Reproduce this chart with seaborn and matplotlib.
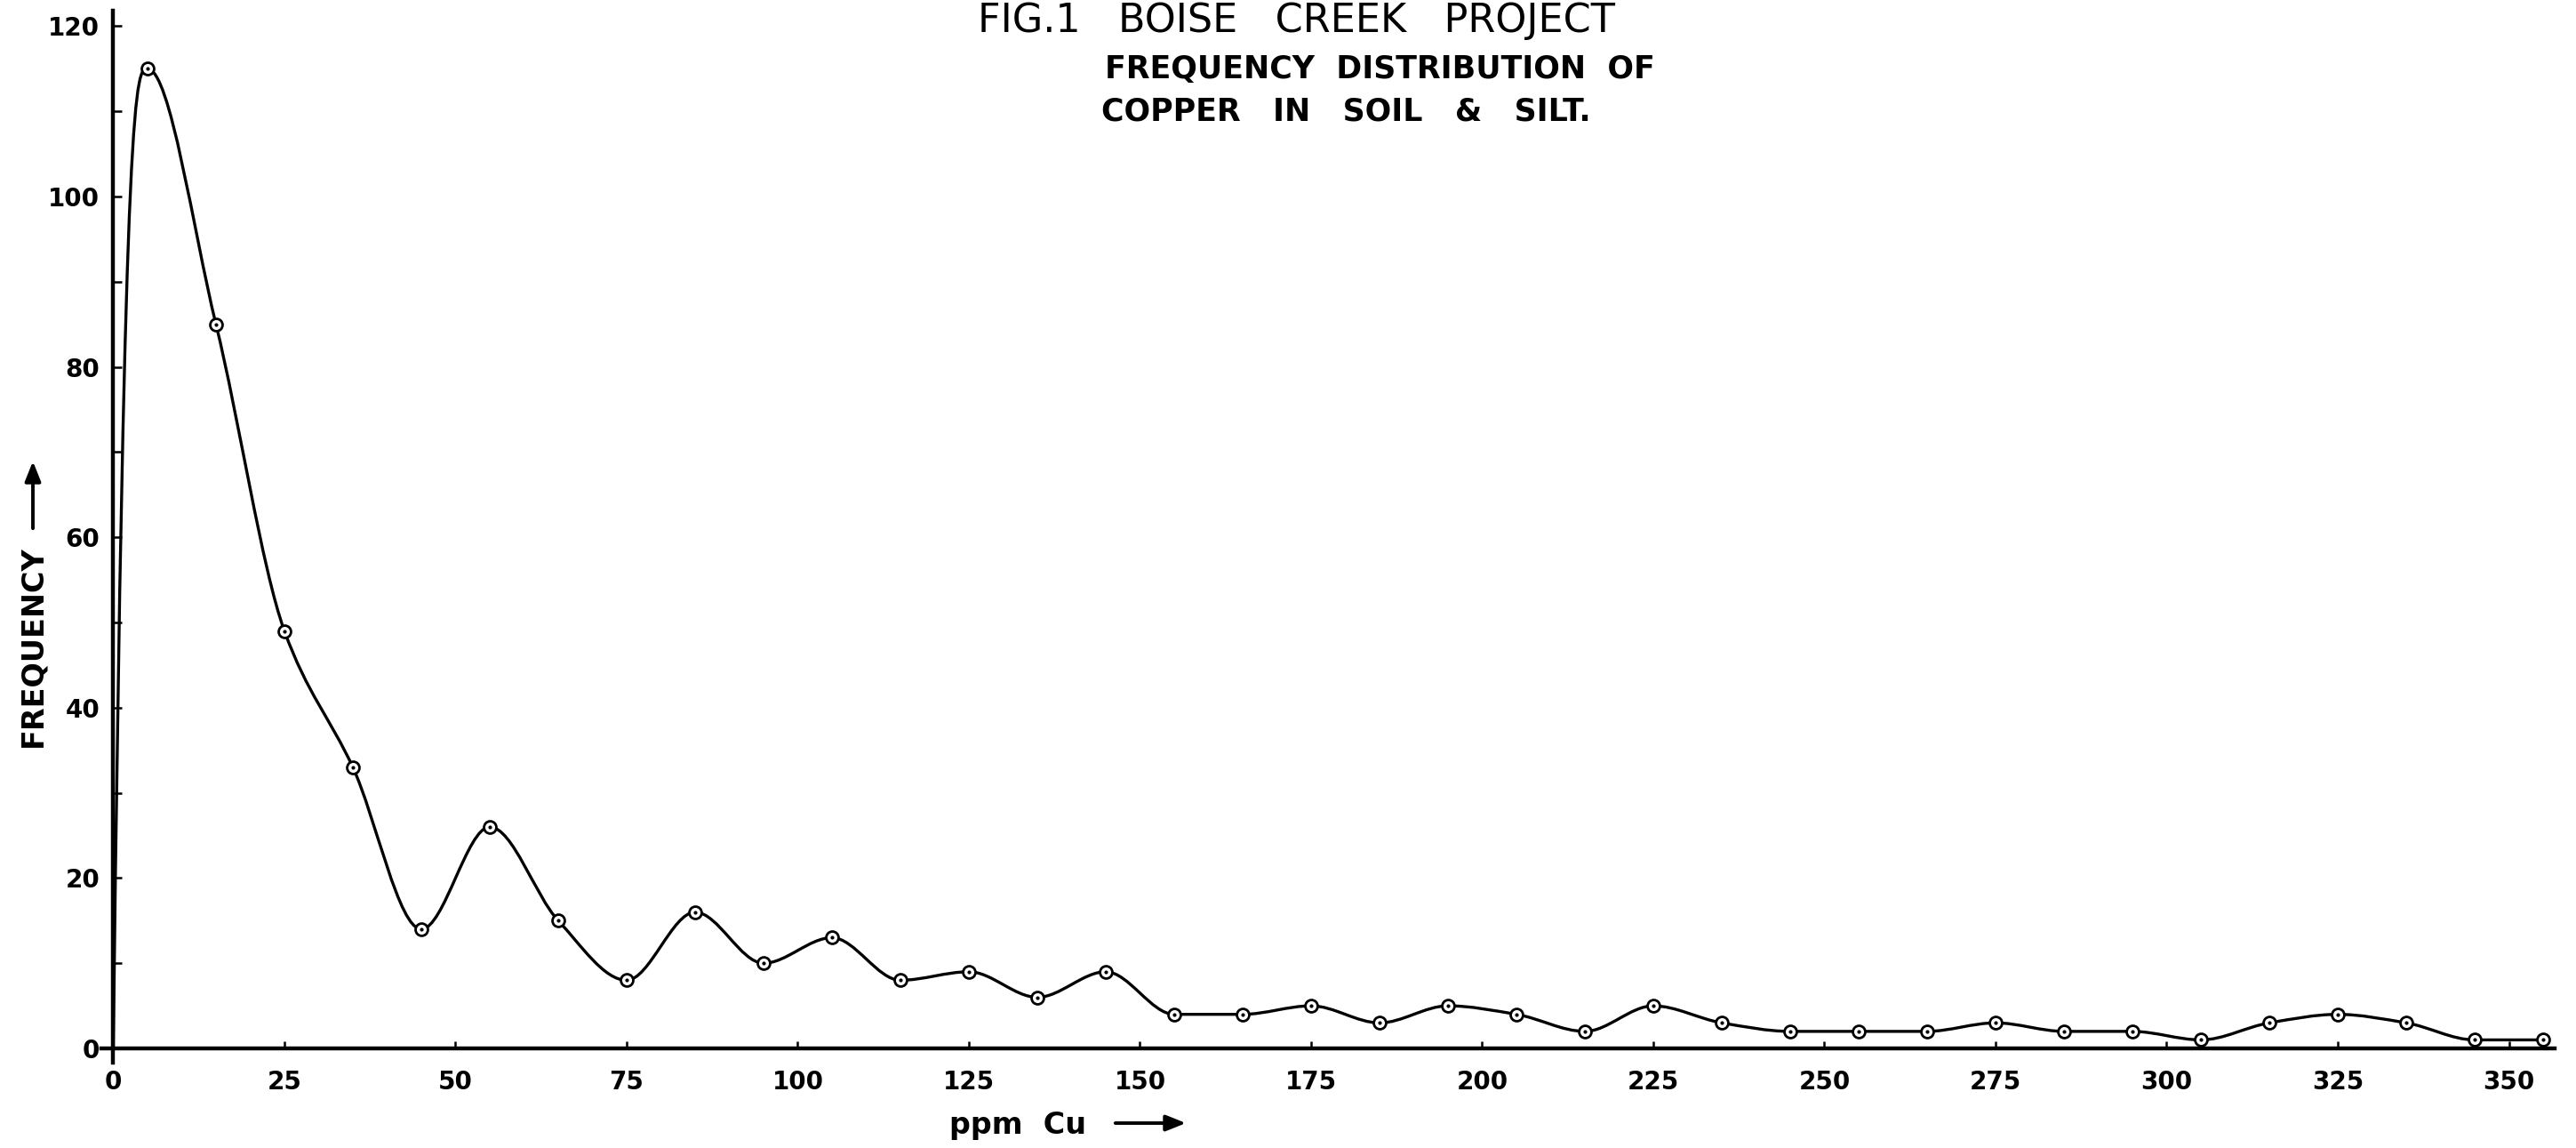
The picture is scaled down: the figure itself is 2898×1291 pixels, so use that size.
import numpy as np
import matplotlib
matplotlib.use("Agg")
import matplotlib.pyplot as plt
from matplotlib.path import Path
from matplotlib.patches import PathPatch
import seaborn as sns

# class mid-points (ppm Cu) and counts
cu_ppm = [5, 15, 25, 35, 45, 55, 65, 75, 85, 95, 105, 115, 125, 135, 145, 155, 165, 175,
          185, 195, 205, 215, 225, 235, 245, 255, 265, 275, 285, 295, 305, 315, 325, 335, 345, 355]
frequency = [115, 85, 49, 33, 14, 26, 15, 8, 16, 10, 13, 8, 9, 6, 9, 4, 4, 5,
             3, 5, 4, 2, 5, 3, 2, 2, 2, 3, 2, 2, 1, 3, 4, 3, 1, 1]

# the drawn curve leaves the origin
curve_start = (0, 0)

x_ticks = list(range(0, 351, 25))
y_ticks = list(range(0, 121, 20))
y_minor = list(range(10, 120, 20))

title = "FIG.1   BOISE   CREEK   PROJECT"
subtitle_1 = "FREQUENCY  DISTRIBUTION  OF"
subtitle_2 = "COPPER   IN   SOIL   &   SILT."


def smooth_curve(x, y):
    # monotone cubic (Fritsch-Carlson) curve through the points, as bezier segments
    x = np.asarray(x, float)
    y = np.asarray(y, float)
    h = np.diff(x)
    delta = np.diff(y) / h
    d = np.zeros_like(y)
    for k in range(1, len(x) - 1):
        if delta[k - 1] * delta[k] > 0:
            w1 = 2 * h[k] + h[k - 1]
            w2 = h[k] + 2 * h[k - 1]
            d[k] = (w1 + w2) / (w1 / delta[k - 1] + w2 / delta[k])
    d[0] = 3 * delta[0]
    d[-1] = 0 if delta[-1] == 0 else delta[-1]
    verts = [(x[0], y[0])]
    codes = [Path.MOVETO]
    for k in range(len(x) - 1):
        verts += [(x[k] + h[k] / 3, y[k] + d[k] * h[k] / 3),
                  (x[k + 1] - h[k] / 3, y[k + 1] - d[k + 1] * h[k] / 3),
                  (x[k + 1], y[k + 1])]
        codes += [Path.CURVE4] * 3
    return Path(verts, codes)


sns.set_theme(style="white")
plt.rcParams["font.family"] = ["DejaVu Sans"]
plt.rcParams["text.color"] = "black"
plt.rcParams["axes.edgecolor"] = "black"

fig = plt.figure(figsize=(28.98, 12.91), dpi=100)
ax = fig.add_axes([0.03947, 0.07413, 0.95228, 0.91643])

curve = smooth_curve([curve_start[0]] + cu_ppm, [curve_start[1]] + frequency)
ax.add_patch(PathPatch(curve, facecolor="none", edgecolor="black", lw=2.4, zorder=2))

sns.scatterplot(x=cu_ppm, y=frequency, ax=ax, marker="o", s=100, facecolor="white",
                edgecolor="black", linewidth=2.0, zorder=3)
sns.scatterplot(x=cu_ppm, y=frequency, ax=ax, marker="o", s=9, color="black",
                linewidth=0, zorder=4)

ax.set_xlim(-1.7, 356.7)
ax.set_ylim(-1.7, 121.8)

for side in ["top", "right"]:
    ax.spines[side].set_visible(False)
ax.spines["left"].set_position(("data", 0))
ax.spines["bottom"].set_position(("data", 0))
for side in ["left", "bottom"]:
    ax.spines[side].set_linewidth(3.2)
    ax.spines[side].set_color("black")

ax.set_xticks(x_ticks)
ax.set_yticks(y_ticks)
ax.set_yticks(y_minor, minor=True)
ax.tick_params(axis="y", which="both", direction="in", length=7, width=1.8,
               pad=11, labelsize=20, colors="black", left=True)
ax.tick_params(axis="x", which="both", direction="in", length=6, width=1.8,
               pad=17, labelsize=20, colors="black", bottom=True)
for lab in ax.get_xticklabels() + ax.get_yticklabels():
    lab.set_fontweight("bold")
ax.set_xlabel("")
ax.set_ylabel("")

# titles
fig.text(1100 / 2898, 1 - 36 / 1291, title, fontsize=32, ha="left", va="baseline")
fig.text(1243 / 2898, 1 - 88 / 1291, subtitle_1, fontsize=25, fontweight="bold",
         ha="left", va="baseline")
fig.text(1239 / 2898, 1 - 135 / 1291, subtitle_2, fontsize=25, fontweight="bold",
         ha="left", va="baseline")

# axis labels with their arrows
fig.text(37 / 2898, 1 - 727 / 1291, "FREQUENCY", fontsize=24, fontweight="bold",
         rotation=90, ha="center", va="center")
ax.annotate("", xy=(37 / 2898, 1 - 516 / 1291), xytext=(37 / 2898, 1 - 597 / 1291),
            xycoords="figure fraction", textcoords="figure fraction",
            arrowprops=dict(arrowstyle="-|>,head_length=0.45,head_width=0.18",
                            lw=2.8, color="black", mutation_scale=30),
            annotation_clip=False)

fig.text(1068 / 2898, 1 - 1275 / 1291, "ppm  Cu", fontsize=24, fontweight="bold",
         ha="left", va="baseline")
ax.annotate("", xy=(1337 / 2898, 1 - 1263 / 1291), xytext=(1252 / 2898, 1 - 1263 / 1291),
            xycoords="figure fraction", textcoords="figure fraction",
            arrowprops=dict(arrowstyle="-|>,head_length=0.45,head_width=0.18",
                            lw=2.8, color="black", mutation_scale=30),
            annotation_clip=False)

fig.savefig("out.png", dpi=100, facecolor="white")
